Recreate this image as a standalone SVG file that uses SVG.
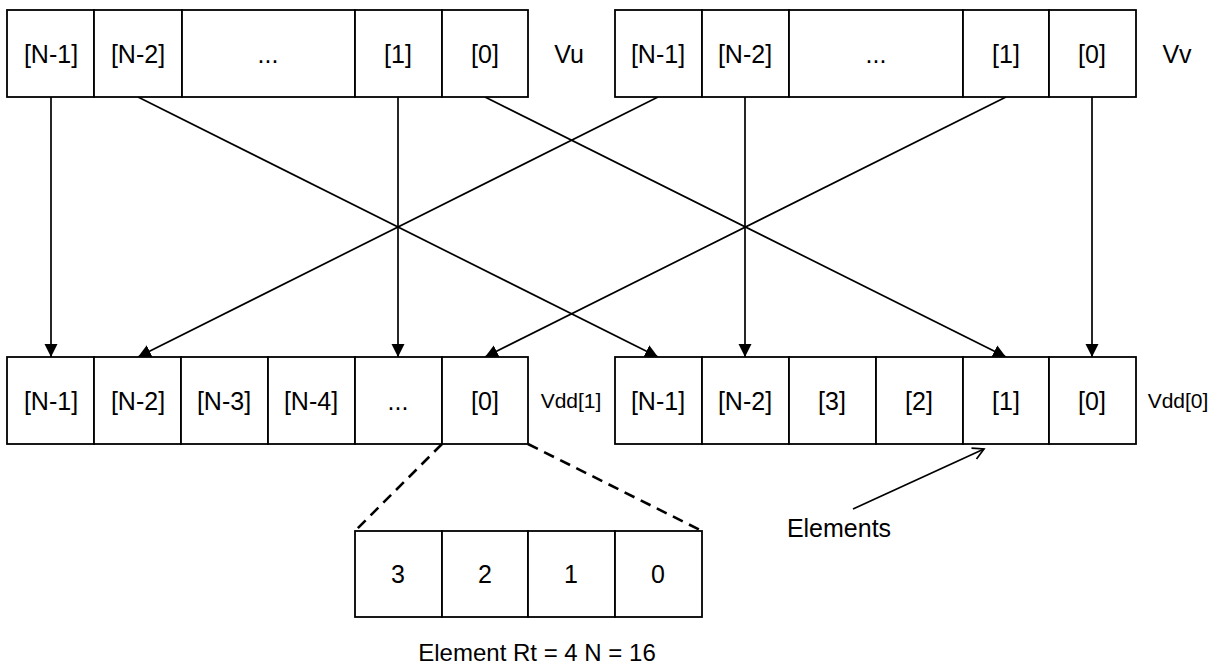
<svg xmlns="http://www.w3.org/2000/svg" width="1220" height="666" viewBox="0 0 1220 666">
<defs>
<style>
.cell{fill:#fff;stroke:#000;stroke-width:1.8}
.t{font-family:"Liberation Sans",Arial,sans-serif;font-size:25px;fill:#000;text-anchor:middle}
.e{font-family:"Liberation Sans",Arial,sans-serif;font-size:24px;fill:#000;text-anchor:middle}
.s{font-family:"Liberation Sans",Arial,sans-serif;font-size:21px;fill:#000;text-anchor:middle}
.c{stroke:#000;stroke-width:1.7;fill:none}
.d{stroke:#000;stroke-width:2.6;fill:none;stroke-dasharray:11 7}
</style>
<marker id="ah" markerUnits="userSpaceOnUse" markerWidth="14" markerHeight="14" refX="13" refY="6.5" orient="auto">
<path d="M0,0 L13,6.5 L0,13 z" fill="#000"/>
</marker>
<marker id="oh" markerUnits="userSpaceOnUse" markerWidth="14" markerHeight="16" refX="12" refY="7" orient="auto">
<path d="M1,1 L12,7 L1,13" fill="none" stroke="#000" stroke-width="1.7"/>
</marker>
</defs>
<rect width="1220" height="666" fill="#fff"/>

<g id="connectors">
<line class="c" x1="51" y1="97" x2="51" y2="357" marker-end="url(#ah)"/>
<line class="c" x1="138" y1="97" x2="658" y2="357" marker-end="url(#ah)"/>
<line class="c" x1="398" y1="97" x2="398" y2="357" marker-end="url(#ah)"/>
<line class="c" x1="485" y1="97" x2="1006" y2="357" marker-end="url(#ah)"/>
<line class="c" x1="658" y1="97" x2="138" y2="357" marker-end="url(#ah)"/>
<line class="c" x1="745" y1="97" x2="745" y2="357" marker-end="url(#ah)"/>
<line class="c" x1="1006" y1="97" x2="485" y2="357" marker-end="url(#ah)"/>
<line class="c" x1="1092" y1="97" x2="1092" y2="357" marker-end="url(#ah)"/>
<line class="d" x1="442" y1="444" x2="355" y2="531"/>
<line class="d" x1="528" y1="444" x2="702" y2="531"/>
<line class="c" x1="853" y1="509" x2="984" y2="449" marker-end="url(#oh)"/>
</g>

<g id="Vu">
<rect class="cell" x="7" y="10" width="87" height="87"/>
<rect class="cell" x="94" y="10" width="88" height="87"/>
<rect class="cell" x="182" y="10" width="173" height="87"/>
<rect class="cell" x="355" y="10" width="87" height="87"/>
<rect class="cell" x="442" y="10" width="86" height="87"/>
<text class="t" x="51" y="63">[N-1]</text>
<text class="t" x="138" y="63">[N-2]</text>
<text class="t" x="268" y="63">...</text>
<text class="t" x="398" y="63">[1]</text>
<text class="t" x="485" y="63">[0]</text>
<text class="t" x="569" y="63">Vu</text>
</g>

<g id="Vv">
<rect class="cell" x="615" y="10" width="87" height="87"/>
<rect class="cell" x="702" y="10" width="87" height="87"/>
<rect class="cell" x="789" y="10" width="174" height="87"/>
<rect class="cell" x="963" y="10" width="86" height="87"/>
<rect class="cell" x="1049" y="10" width="87" height="87"/>
<text class="t" x="658" y="63">[N-1]</text>
<text class="t" x="745" y="63">[N-2]</text>
<text class="t" x="876" y="63">...</text>
<text class="t" x="1006" y="63">[1]</text>
<text class="t" x="1092" y="63">[0]</text>
<text class="t" x="1177" y="63">Vv</text>
</g>

<g id="Vdd1">
<rect class="cell" x="7" y="357" width="87" height="87"/>
<rect class="cell" x="94" y="357" width="87" height="87"/>
<rect class="cell" x="181" y="357" width="87" height="87"/>
<rect class="cell" x="268" y="357" width="87" height="87"/>
<rect class="cell" x="355" y="357" width="87" height="87"/>
<rect class="cell" x="442" y="357" width="86" height="87"/>
<text class="t" x="51" y="410">[N-1]</text>
<text class="t" x="138" y="410">[N-2]</text>
<text class="t" x="224" y="410">[N-3]</text>
<text class="t" x="311" y="410">[N-4]</text>
<text class="t" x="398" y="410">...</text>
<text class="t" x="485" y="410">[0]</text>
<text class="s" x="571" y="408">Vdd[1]</text>
</g>

<g id="Vdd0">
<rect class="cell" x="615" y="357" width="87" height="87"/>
<rect class="cell" x="702" y="357" width="87" height="87"/>
<rect class="cell" x="789" y="357" width="87" height="87"/>
<rect class="cell" x="876" y="357" width="87" height="87"/>
<rect class="cell" x="963" y="357" width="86" height="87"/>
<rect class="cell" x="1049" y="357" width="87" height="87"/>
<text class="t" x="658" y="410">[N-1]</text>
<text class="t" x="745" y="410">[N-2]</text>
<text class="t" x="832" y="410">[3]</text>
<text class="t" x="919" y="410">[2]</text>
<text class="t" x="1006" y="410">[1]</text>
<text class="t" x="1092" y="410">[0]</text>
<text class="s" x="1178" y="408">Vdd[0]</text>
</g>

<g id="element">
<rect class="cell" x="355" y="531" width="87" height="86"/>
<rect class="cell" x="442" y="531" width="86" height="86"/>
<rect class="cell" x="528" y="531" width="87" height="86"/>
<rect class="cell" x="615" y="531" width="87" height="86"/>
<text class="t" x="398" y="583">3</text>
<text class="t" x="485" y="583">2</text>
<text class="t" x="571" y="583">1</text>
<text class="t" x="658" y="583">0</text>
<text class="e" x="537" y="661">Element Rt = 4 N = 16</text>
</g>

<g id="elements-label">
<text class="t" x="839" y="537">Elements</text>
</g>
</svg>
